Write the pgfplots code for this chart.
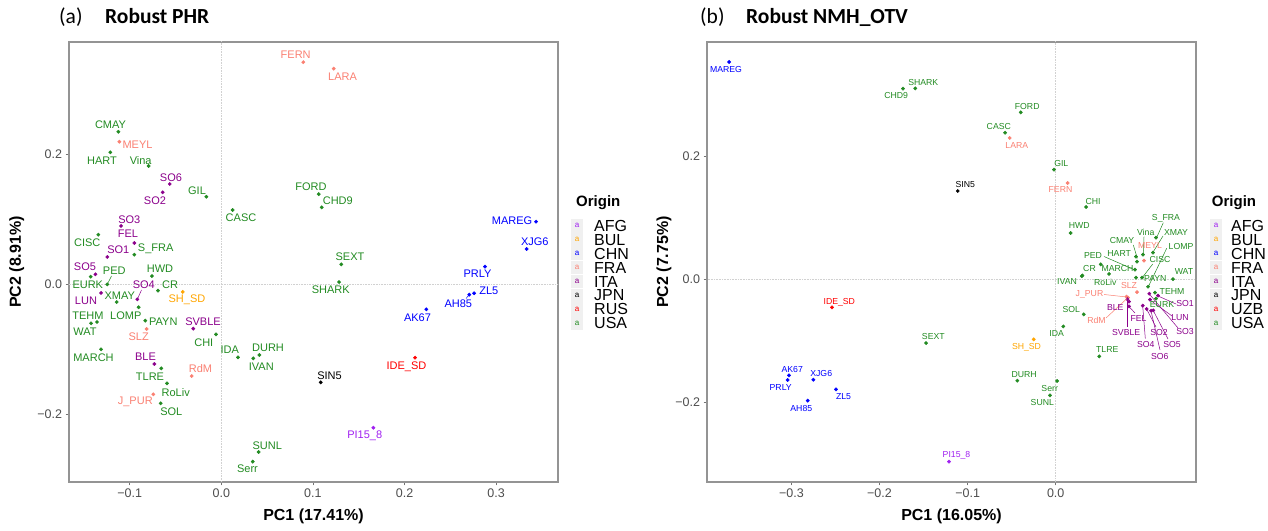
\documentclass[border=0pt]{standalone}
\usepackage{pgfplots}
\pgfplotsset{compat=1.18}
\usepackage{fontspec}
\setmainfont{Liberation Sans}
\newfontfamily\titlefont{Carlito}
\definecolor{cAFG}{HTML}{A020F0}
\definecolor{cBUL}{HTML}{FFA500}
\definecolor{cCHN}{HTML}{0000FF}
\definecolor{cFRA}{HTML}{FA8072}
\definecolor{cITA}{HTML}{8B008B}
\definecolor{cJPN}{HTML}{000000}
\definecolor{cRUS}{HTML}{FF0000}
\definecolor{cUSA}{HTML}{228B22}
\definecolor{tickgray}{HTML}{4D4D4D}
\newcommand{\fs}[1]{\fontsize{#1}{#1}\selectfont}
% text label at pixel position (x from left, y from top)
\newcommand{\lab}[4]{\node[text=#1, inner sep=0pt, anchor=center] at (#2pt,530pt-#3pt) {#4};}
\newcommand{\seg}[5]{\draw[#1, line width=0.5pt] (#2pt,530pt-#3pt) -- (#4pt,530pt-#5pt);}
\pgfplotsset{
  pca/.style={
    scale only axis, width=489pt, height=440pt, anchor=south west,
    axis line style={draw=black!42, line width=1.1pt},
    tick style={draw=black!55, line width=0.6pt},
    tick align=outside, major tick length=3.5pt,
    xtick pos=bottom, ytick pos=left,
    ticklabel style={font=\fs{12.5}, text=tickgray},
    xlabel style={font=\bfseries\fs{16}, anchor=center},
    ylabel style={font=\bfseries\fs{16}, anchor=center},
    clip=true,
  },
  pt/.style={only marks, mark=*, mark size=1.7pt, #1, mark options={draw=#1, fill=#1}},
  zero/.style={densely dotted, black!18, line width=0.6pt, forget plot},
}
\begin{document}
\begin{tikzpicture}
\useasboundingbox (0,0) rectangle (1268pt,530pt);
% ---------------- Panel (a) ----------------
\begin{axis}[pca, at={(69pt,48pt)},
  xmin=-0.16627, xmax=0.36757, ymin=-0.30385, ymax=0.37308,
  xtick={-0.1,0,0.1,0.2,0.3}, xticklabels={−0.1,0.0,0.1,0.2,0.3},
  ytick={-0.2,0,0.2}, yticklabels={−0.2,0.0,0.2},
  xlabel={PC1 (17.41\%)}, ylabel={PC2 (8.91\%)},
  xlabel style={at={(axis description cs:0.5,-0.0773)}},
  ylabel style={at={(axis description cs:-0.107,0.5)}},
]
\addplot[zero] coordinates {(0,-1) (0,1)};
\addplot[zero] coordinates {(-1,0) (1,0)};
% AFG
\addplot[pt=cAFG] coordinates {(0.1660,-0.2203)};
% BUL
\addplot[pt=cBUL] coordinates {(-0.0421,-0.0115)};
% CHN
\addplot[pt=cCHN] coordinates {(0.3436,0.0966) (0.3334,0.0546) (0.2879,0.0274) (0.2759,-0.0135) (0.2707,-0.0157) (0.2238,-0.0382)};
% FRA
\addplot[pt=cFRA] coordinates {(0.0895,0.3420) (0.1227,0.3320) (-0.1113,0.2197) (-0.0815,-0.0685) (-0.0323,-0.1408) (-0.0742,-0.1690)};
% ITA
\addplot[pt=cITA] coordinates {(-0.0563,0.1546) (-0.0640,0.1418) (-0.1095,0.0900) (-0.0950,0.0638) (-0.1245,0.0423) (-0.1374,0.0157) (-0.1313,-0.0130) (-0.0917,-0.0228) (-0.0306,-0.0680) (-0.0731,-0.1223)};
% JPN
\addplot[pt=cJPN] coordinates {(0.1085,-0.1505)};
% RUS
\addplot[pt=cRUS] coordinates {(0.2115,-0.1126)};
% USA
\addplot[pt=cUSA] coordinates {(-0.1124,0.2350) (-0.1212,0.2034) (-0.0793,0.1823) (-0.0164,0.1350) (0.0124,0.1146) (0.1063,0.1390) (0.1096,0.1187) (-0.1343,0.0766) (-0.0950,0.0458) (0.1310,0.0310) (0.1285,0.0038) (-0.1426,0.0120) (-0.1245,0.0003) (-0.0757,0.0130) (-0.0691,-0.0095) (-0.1142,-0.0270) (-0.0902,-0.0350) (-0.1357,-0.0577) (-0.1422,-0.0597) (-0.0830,-0.0557) (-0.0058,-0.0766) (-0.1313,-0.0997) (0.0182,-0.1120) (0.0415,-0.1085) (0.0349,-0.1136) (-0.0655,-0.1290) (-0.0593,-0.1520) (-0.0662,-0.1828) (0.0408,-0.2577) (0.0343,-0.2726)};
\end{axis}
% labels (a)
\begin{scope}[font=\fs{11}]
\lab{cFRA}{295.7}{55}{FERN}
\lab{cFRA}{342.5}{77}{LARA}
\lab{cUSA}{110.5}{124.7}{CMAY}
\lab{cFRA}{137.5}{145}{MEYL}
\lab{cUSA}{102}{161}{HART}
\lab{cUSA}{140.7}{160.3}{Vina}
\lab{cITA}{171}{177.3}{SO6}
\lab{cITA}{155}{201}{SO2}
\lab{cUSA}{197}{190.3}{GIL}
\lab{cUSA}{241}{218}{CASC}
\lab{cUSA}{311}{186.3}{FORD}
\lab{cUSA}{337.8}{200.3}{CHD9}
\lab{cITA}{129.3}{219.7}{SO3}
\lab{cITA}{128}{234}{FEL}
\lab{cUSA}{87.3}{242.7}{CISC}
\lab{cITA}{118.3}{249.3}{SO1}
\lab{cUSA}{155.7}{248.3}{S\_FRA}
\lab{cUSA}{350}{256.3}{SEXT}
\lab{cITA}{85}{266.7}{SO5}
\lab{cUSA}{114.3}{270.7}{PED}
\lab{cUSA}{160}{269}{HWD}
\lab{cUSA}{87.8}{285}{EURK}
\lab{cITA}{143.8}{284.3}{SO4}
\lab{cUSA}{170}{285}{CR}
\lab{cITA}{86}{300.7}{LUN}
\lab{cUSA}{119.7}{296}{XMAY}
\lab{cBUL}{187}{300}{SH\_SD}
\lab{cUSA}{88}{315.3}{TEHM}
\lab{cUSA}{125.8}{315.3}{LOMP}
\lab{cUSA}{163.3}{322}{PAYN}
\lab{cITA}{203}{321.3}{SVBLE}
\lab{cUSA}{85}{331.7}{WAT}
\lab{cFRA}{138.7}{337}{SLZ}
\lab{cUSA}{203.8}{342.7}{CHI}
\lab{cUSA}{229.7}{349.3}{IDA}
\lab{cUSA}{268}{347.3}{DURH}
\lab{cUSA}{93.5}{358}{MARCH}
\lab{cITA}{145.5}{357}{BLE}
\lab{cUSA}{261.3}{366.3}{IVAN}
\lab{cFRA}{200.5}{368.7}{RdM}
\lab{cUSA}{150}{376.7}{TLRE}
\lab{cJPN}{329.5}{376}{SIN5}
\lab{cUSA}{175.7}{392.3}{RoLiv}
\lab{cFRA}{135.3}{402}{J\_PUR}
\lab{cUSA}{171.3}{411.3}{SOL}
\lab{cAFG}{364.7}{435.7}{PI15\_8}
\lab{cUSA}{267.3}{445.3}{SUNL}
\lab{cUSA}{247.5}{469}{Serr}
\lab{cCHN}{477.5}{274}{PRLY}
\lab{cCHN}{488.8}{290.3}{ZL5}
\lab{cCHN}{458.3}{303.7}{AH85}
\lab{cCHN}{417.5}{317.3}{AK67}
\lab{cRUS}{406.5}{366.7}{IDE\_SD}
\lab{cUSA}{330.7}{289.3}{SHARK}
\lab{cCHN}{512}{220.7}{MAREG}
\lab{cCHN}{534.8}{241.7}{XJG6}
\end{scope}
\seg{cUSA}{107.3}{284.3}{111.5}{276}
\seg{cITA}{137.3}{299.3}{141.5}{290}
\seg{cCHN}{469.3}{294.7}{466}{298.5}
% ---------------- Panel (b) ----------------
\begin{axis}[pca, at={(707pt,48pt)},
  xmin=-0.39580, xmax=0.15925, ymin=-0.32894, ymax=0.38650,
  xtick={-0.3,-0.2,-0.1,0}, xticklabels={−0.3,−0.2,−0.1,0.0},
  ytick={-0.2,0,0.2}, yticklabels={−0.2,0.0,0.2},
  xlabel={PC1 (16.05\%)}, ylabel={PC2 (7.75\%)},
  xlabel style={at={(axis description cs:0.5,-0.0773)}},
  ylabel style={at={(axis description cs:-0.088,0.5)}},
]
\addplot[zero] coordinates {(0,-1) (0,1)};
\addplot[zero] coordinates {(-1,0) (1,0)};
% AFG
\addplot[pt=cAFG] coordinates {(-0.1211,-0.2959)};
% BUL
\addplot[pt=cBUL] coordinates {(-0.0250,-0.0970)};
% CHN
\addplot[pt=cCHN] coordinates {(-0.3708,0.3540) (-0.3027,-0.1556) (-0.2751,-0.1626) (-0.3042,-0.1631) (-0.2494,-0.1783) (-0.2815,-0.1967)};
% FRA
\addplot[pt=cFRA] coordinates {(-0.0522,0.2304) (0.0136,0.1572) (0.1002,0.0309) (0.0923,-0.0203) (0.0804,-0.0276) (0.0821,-0.0293)};
% ITA
\addplot[pt=cITA] coordinates {(0.0832,-0.0358) (0.0813,-0.0317) (0.0832,-0.0434) (0.0988,-0.0423) (0.1033,-0.0476) (0.1082,-0.0504) (0.1108,-0.0499) (0.1062,-0.0228) (0.1070,-0.0325) (0.1161,-0.0260)};
% JPN
\addplot[pt=cJPN] coordinates {(-0.1112,0.1442)};
% UZB
\addplot[pt=cRUS] coordinates {(-0.2539,-0.0450)};
% USA
\addplot[pt=cUSA] coordinates {(-0.1594,0.3110) (-0.1733,0.3106) (-0.0397,0.2720) (-0.0575,0.2390) (-0.0019,0.1789) (0.0344,0.1182) (0.0170,0.0759) (0.0302,0.0069) (0.0296,0.0057) (0.0605,0.0093) (0.0318,-0.0564) (0.0086,-0.0760) (-0.1472,-0.1030) (0.0495,-0.1247) (-0.0436,-0.1642) (0.0015,-0.1647) (-0.0065,-0.1881) (0.1138,0.0683) (0.1104,0.0439) (0.0991,0.0407) (0.0911,0.0374) (0.0923,0.0293) (0.1048,-0.0114) (0.0980,0.0033) (0.0900,0.0163) (0.0511,0.0249) (0.0911,0.0033) (0.1127,-0.0211) (0.1138,-0.0309) (0.1331,0.0008)};
\end{axis}
% leader lines (b)
\seg{cUSA}{1104}{256.5}{1135}{270}
\seg{cUSA}{1163.3}{222.7}{1156.3}{238.3}
\seg{cUSA}{1163}{236}{1152.7}{252.7}
\seg{cUSA}{1144}{236.7}{1143.3}{255}
\seg{cUSA}{1133.3}{245}{1137.3}{258.3}
\seg{cUSA}{1166.7}{248.3}{1148.3}{286.7}
\seg{cUSA}{1152.7}{264}{1142}{278}
\seg{cFRA}{1104}{294.5}{1126.5}{297}
\seg{cFRA}{1106}{318}{1127}{298.5}
\seg{cITA}{1127.3}{327}{1127.3}{300}
\seg{cITA}{1135}{313}{1129}{306.7}
\seg{cITA}{1145.3}{338.5}{1142.7}{306}
\seg{cITA}{1156}{327}{1146.7}{309.3}
\seg{cITA}{1160}{350}{1151}{311}
\seg{cITA}{1168}{339}{1153.3}{310.7}
\seg{cITA}{1178}{328}{1149.3}{294}
\seg{cITA}{1172}{316}{1150}{300}
\seg{cITA}{1176}{304}{1158}{296}
\begin{scope}[font=\fs{8.7}]
\lab{cCHN}{726}{69.7}{MAREG}
\lab{cUSA}{923.3}{82.3}{SHARK}
\lab{cUSA}{896.2}{96}{CHD9}
\lab{cUSA}{1027.2}{106.7}{FORD}
\lab{cUSA}{998.8}{126.3}{CASC}
\lab{cFRA}{1016.8}{146}{LARA}
\lab{cUSA}{1061.3}{164}{GIL}
\lab{cJPN}{965.3}{185}{SIN5}
\lab{cFRA}{1060.5}{190}{FERN}
\lab{cUSA}{1093}{201.7}{CHI}
\lab{cUSA}{1079.3}{225.7}{HWD}
\lab{cUSA}{1166}{218}{S\_FRA}
\lab{cUSA}{1145.7}{232.3}{Vina}
\lab{cUSA}{1176}{233}{XMAY}
\lab{cUSA}{1122}{241}{CMAY}
\lab{cFRA}{1150}{245.7}{MEYL}
\lab{cUSA}{1181}{246.7}{LOMP}
\lab{cUSA}{1119.2}{254}{HART}
\lab{cUSA}{1093}{255.7}{PED}
\lab{cUSA}{1160}{260}{CISC}
\lab{cUSA}{1117.5}{268.3}{MARCH}
\lab{cUSA}{1089.5}{269}{CR}
\lab{cUSA}{1184}{272}{WAT}
\lab{cUSA}{1155.3}{278.7}{PAYN}
\lab{cUSA}{1067}{282}{IVAN}
\lab{cUSA}{1105.3}{282.3}{RoLiv}
\lab{cFRA}{1129}{285.7}{SLZ}
\lab{cUSA}{1172}{292}{TEHM}
\lab{cFRA}{1089.5}{294.7}{J\_PUR}
\lab{cRUS}{839.3}{302}{IDE\_SD}
\lab{cITA}{1185}{304}{SO1}
\lab{cUSA}{1162}{305}{EURK}
\lab{cITA}{1115.3}{307.3}{BLE}
\lab{cUSA}{1071.2}{310}{SOL}
\lab{cITA}{1180}{318}{LUN}
\lab{cITA}{1138.5}{318.5}{FEL}
\lab{cFRA}{1096.5}{320.7}{RdM}
\lab{cITA}{1185}{332}{SO3}
\lab{cITA}{1126.2}{332.7}{SVBLE}
\lab{cITA}{1159}{332.7}{SO2}
\lab{cUSA}{1056.7}{334}{IDA}
\lab{cUSA}{933.3}{337}{SEXT}
\lab{cITA}{1145.8}{345}{SO4}
\lab{cITA}{1172}{345}{SO5}
\lab{cBUL}{1026.5}{347}{SH\_SD}
\lab{cUSA}{1107.2}{350}{TLRE}
\lab{cITA}{1159.7}{356.7}{SO6}
\lab{cCHN}{792.2}{369.3}{AK67}
\lab{cCHN}{821.2}{373.3}{XJG6}
\lab{cUSA}{1024.2}{375}{DURH}
\lab{cCHN}{780.7}{387.7}{PRLY}
\lab{cUSA}{1049.7}{388.7}{Serr}
\lab{cCHN}{843.5}{396.7}{ZL5}
\lab{cUSA}{1042.3}{402.7}{SUNL}
\lab{cCHN}{801.3}{408.7}{AH85}
\lab{cAFG}{956.5}{455.7}{PI15\_8}
\end{scope}
% ---------------- titles ----------------
\node[anchor=base west, inner sep=0pt, font=\titlefont\fs{21.5}] at (59pt,506.7pt) {(a)};
\node[anchor=base west, inner sep=0pt, font=\titlefont\bfseries\fs{21.5}] at (105pt,506.7pt) {Robust PHR};
\node[anchor=base west, inner sep=0pt, font=\titlefont\fs{21.5}] at (700pt,506.7pt) {(b)};
\node[anchor=base west, inner sep=0pt, font=\titlefont\bfseries\fs{21.5}] at (746pt,506.7pt) {Robust NMH\_OTV};
% ---------------- legends ----------------
\node[anchor=west, inner sep=0pt, font=\bfseries\fs{15}] at (576pt,530pt-203pt) {Origin};
\node[anchor=west, inner sep=0pt, font=\bfseries\fs{15}] at (1211.7pt,530pt-203pt) {Origin};
\foreach \n/\c [count=\i from 0] in {AFG/cAFG,BUL/cBUL,CHN/cCHN,FRA/cFRA,ITA/cITA,JPN/cJPN,RUS/cRUS,USA/cUSA}{
  \fill[black!6] (571pt,530pt-225.7pt-\i*13.95pt+6.9pt) rectangle ++(12pt,-13.8pt);
  \node[text=\c, inner sep=0pt, font=\fs{8}] at (577pt,530pt-225.7pt-\i*13.95pt) {a};
  \node[anchor=west, inner sep=0pt, font=\fs{16}] at (594pt,530pt-225.7pt-\i*13.95pt) {\n};
}
\foreach \n/\c [count=\i from 0] in {AFG/cAFG,BUL/cBUL,CHN/cCHN,FRA/cFRA,ITA/cITA,JPN/cJPN,UZB/cRUS,USA/cUSA}{
  \fill[black!6] (1210pt,530pt-225.7pt-\i*13.95pt+6.9pt) rectangle ++(12pt,-13.8pt);
  \node[text=\c, inner sep=0pt, font=\fs{8}] at (1216pt,530pt-225.7pt-\i*13.95pt) {a};
  \node[anchor=west, inner sep=0pt, font=\fs{16}] at (1231pt,530pt-225.7pt-\i*13.95pt) {\n};
}
\end{tikzpicture}
\end{document}
